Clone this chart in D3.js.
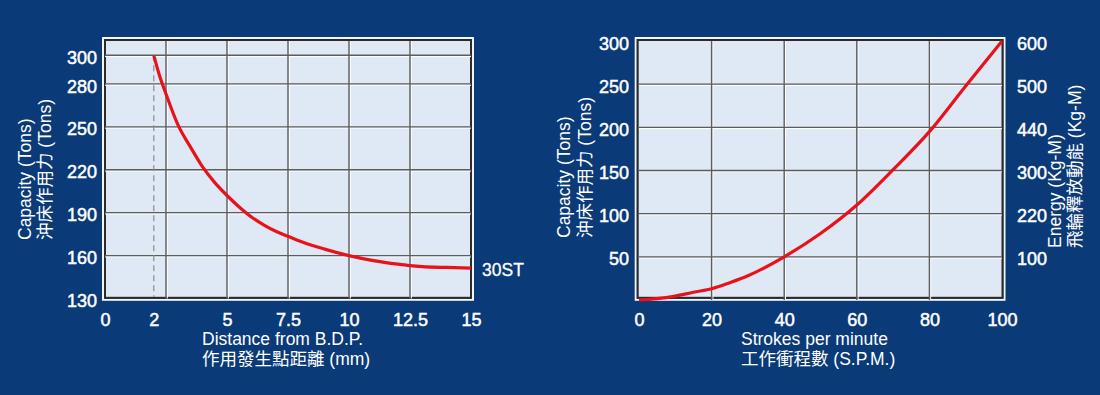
<!DOCTYPE html>
<html>
<head>
<meta charset="utf-8">
<script src="https://cdn.jsdelivr.net/npm/d3@7"></script>
<style>
  body { margin: 0; background: #0a3a77; }
  svg { display: block; }
  text { font-family: "Liberation Sans", Arial, "Noto Sans CJK TC", sans-serif; fill: #fff; }
</style>
</head>
<body>
<svg id="chart" width="1100" height="395"></svg>
<script>
// ---- data ----

// left panel: capacity vs distance from B.D.P.
var distance = [2, 2.25, 2.5, 3, 3.5, 4, 4.5, 5, 5.5, 6, 6.5, 7, 7.5, 8, 8.5, 9, 10, 11, 12, 12.5, 13, 14, 15];
var capacityByDist = [300, 285, 273, 251, 236, 222, 211, 202, 194, 187, 181.5, 177, 173.5, 170, 167, 164.5, 160, 156.5, 154, 153, 152.3, 151.7, 151.3];
var distTicks = [0, 2, 5, 7.5, 10, 12.5, 15];
var distGrid = [2.5, 5, 7.5, 10, 12.5];
var capTicksLeft = [130, 160, 190, 220, 250, 280, 300];
var capGridLeft = [160, 190, 220, 250, 280, 300];
var ratedPoint = 2;   // dashed line
var seriesLabel = "30ST";

// right panel: capacity vs strokes per minute
var spm = [0, 5, 10, 15, 20, 25, 30, 40, 50, 60, 70, 80, 90, 100];
var capacityBySpm = [0, 1.5, 4.5, 9, 13, 20, 28, 50, 77, 110, 151, 195, 248, 300];
var spmTicks = [0, 20, 40, 60, 80, 100];
var capTicksRight = [50, 100, 150, 200, 250, 300];
var energyLabels = ["100", "220", "300", "440", "500", "600"];

var svg = d3.select("#chart");

// ---- helpers ----
function frame(g, x0, x1, y0, y1) {
  // white outer band, then dark border, then light fill
  g.append("rect")
    .attr("x", x0 - 2).attr("y", y0 - 2)
    .attr("width", x1 - x0 + 4).attr("height", y1 - y0 + 4)
    .attr("fill", "none").attr("stroke", "#f4f6f9").attr("stroke-width", 2);
  g.append("rect")
    .attr("x", x0).attr("y", y0)
    .attr("width", x1 - x0).attr("height", y1 - y0)
    .attr("fill", "#dfe9f5").attr("stroke", "#2b2b2b").attr("stroke-width", 2);
}

function gridLines(g, xs, ys, x, y) {
  var xr = x.range(), yr = y.range();
  g.selectAll(null).data(ys).enter().append("line")
    .attr("x1", xr[0]).attr("x2", xr[1])
    .attr("y1", function(d) { return y(d) + 1.3; }).attr("y2", function(d) { return y(d) + 1.3; })
    .attr("stroke", "#fff").attr("stroke-width", 1);
  g.selectAll(null).data(xs).enter().append("line")
    .attr("y1", yr[1]).attr("y2", yr[0])
    .attr("x1", function(d) { return x(d) + 1.3; }).attr("x2", function(d) { return x(d) + 1.3; })
    .attr("stroke", "#fff").attr("stroke-width", 1);
  g.selectAll(null).data(ys).enter().append("line")
    .attr("x1", xr[0]).attr("x2", xr[1])
    .attr("y1", function(d) { return y(d); }).attr("y2", function(d) { return y(d); })
    .attr("stroke", "#5c5c5c").attr("stroke-width", 1.4);
  g.selectAll(null).data(xs).enter().append("line")
    .attr("y1", yr[1]).attr("y2", yr[0])
    .attr("x1", function(d) { return x(d); }).attr("x2", function(d) { return x(d); })
    .attr("stroke", "#5c5c5c").attr("stroke-width", 1.4);
}

function styleAxis(g) {
  g.select(".domain").remove();
  g.selectAll(".tick line").remove();
  g.selectAll(".tick text")
    .attr("font-size", 18)
    .attr("fill", "#fff")
    .attr("stroke", "#fff")
    .attr("stroke-width", 0.5)
    .attr("font-family", "Liberation Sans, Arial, sans-serif");
}

function vTitle(g, x, y, txt) {
  g.append("text")
    .attr("transform", "translate(" + x + "," + y + ") rotate(-90)")
    .attr("dy", "0.35em")
    .attr("font-size", 17.5)
    .text(txt);
}

// ================= left panel =================
var xL = d3.scaleLinear().domain([0, 15]).range([105, 471]);
var yL = d3.scaleLinear().domain([130, 310]).range([298.5, 41]);
var left = svg.append("g");

frame(left, 105, 471, 40, 297.8);
gridLines(left, distGrid, capGridLeft, xL, yL);

// dashed line at the rated point
left.append("line")
  .attr("x1", xL(ratedPoint)).attr("x2", xL(ratedPoint))
  .attr("y1", yL(300)).attr("y2", yL(131))
  .attr("stroke", "#8a8a8a").attr("stroke-width", 1.2)
  .attr("stroke-dasharray", "6,4");

var lineL = d3.line()
  .x(function(d, i) { return xL(distance[i]); })
  .y(function(d) { return yL(d); })
  .curve(d3.curveMonotoneX);

left.append("path")
  .datum(capacityByDist)
  .attr("d", lineL)
  .attr("fill", "none")
  .attr("stroke", "#e8121a")
  .attr("stroke-width", 3.2);

left.append("text")
  .attr("x", 482).attr("y", 276)
  .attr("font-size", 17.5)
  .attr("stroke", "#fff").attr("stroke-width", 0.3)
  .text(seriesLabel);

// axes
left.append("g")
  .attr("transform", "translate(0,326)")
  .call(d3.axisBottom(xL).tickValues(distTicks).tickSize(0).tickPadding(0).tickFormat(function(d) { return d; }))
  .call(styleAxis)
  .selectAll(".tick text").attr("dy", 0);

left.append("g")
  .attr("transform", "translate(97,0)")
  .call(d3.axisLeft(yL).tickValues(capTicksLeft).tickSize(0).tickPadding(0))
  .call(styleAxis)
  .selectAll(".tick text").attr("dy", "0.45em");

vTitle(left, 25, 240, "Capacity (Tons)");
vTitle(left, 45, 240, "沖床作用力 (Tons)");

left.append("text").attr("x", 202).attr("y", 345).attr("font-size", 17.5).text("Distance from B.D.P.");
left.append("text").attr("x", 202).attr("y", 365).attr("font-size", 17.5).text("作用發生點距離 (mm)");

// ================= right panel =================
var xR = d3.scaleLinear().domain([0, 100]).range([639, 1002]);
var yR = d3.scaleLinear().domain([0, 300]).range([300, 41]);
var right = svg.append("g");

frame(right, 637.7, 1002.5, 40, 297.8);
gridLines(right, spmTicks.slice(1, -1), capTicksRight.slice(0, -1), xR, yR);

var lineR = d3.line()
  .x(function(d, i) { return xR(spm[i]); })
  .y(function(d) { return yR(d); })
  .curve(d3.curveMonotoneX);

right.append("path")
  .datum(capacityBySpm)
  .attr("d", lineR)
  .attr("fill", "none")
  .attr("stroke", "#e8121a")
  .attr("stroke-width", 3.2);

right.append("g")
  .attr("transform", "translate(0,326)")
  .call(d3.axisBottom(xR).tickValues(spmTicks).tickSize(0).tickPadding(0))
  .call(styleAxis)
  .selectAll(".tick text").attr("dy", 0);

right.append("g")
  .attr("transform", "translate(629,0)")
  .call(d3.axisLeft(yR).tickValues(capTicksRight).tickSize(0).tickPadding(0))
  .call(styleAxis)
  .selectAll(".tick text").attr("dy", "0.45em");

// energy axis shares the grid of the capacity axis
right.append("g")
  .attr("transform", "translate(1017,0)")
  .call(d3.axisRight(yR).tickValues(capTicksRight).tickSize(0).tickPadding(0)
    .tickFormat(function(d, i) { return energyLabels[i]; }))
  .call(styleAxis)
  .selectAll(".tick text").attr("dy", "0.45em");

vTitle(right, 563.5, 238, "Capacity (Tons)");
vTitle(right, 585, 238, "沖床作用力 (Tons)");
vTitle(right, 1055, 248, "Energy (Kg-M)");
vTitle(right, 1075, 248, "飛輪釋放動能 (Kg-M)");

right.append("text").attr("x", 741).attr("y", 345).attr("font-size", 17.5).text("Strokes per minute");
right.append("text").attr("x", 741).attr("y", 365).attr("font-size", 17.5).text("工作衝程數 (S.P.M.)");
</script>
</body>
</html>
